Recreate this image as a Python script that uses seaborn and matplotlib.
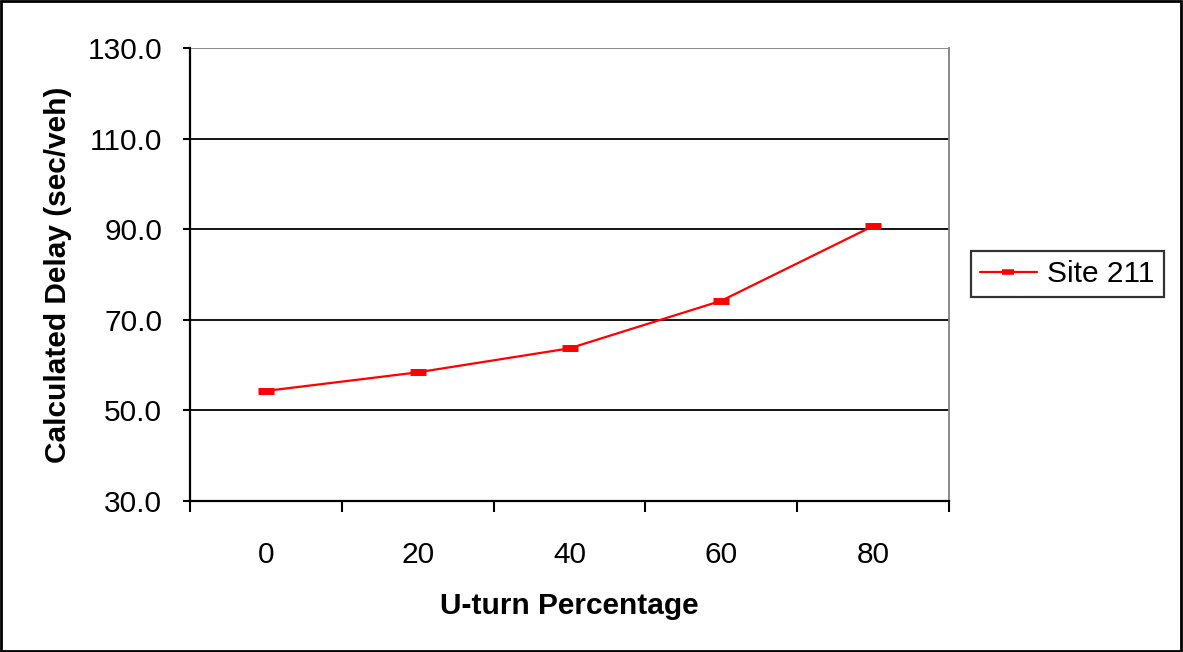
import matplotlib
matplotlib.use("Agg")
import matplotlib.pyplot as plt
import seaborn as sns
import pandas as pd
from matplotlib.patches import Rectangle
from matplotlib.ticker import FixedLocator

categories = ["0", "20", "40", "60", "80"]
delay = [54.3, 58.4, 63.7, 74.2, 90.7]
series_name = "Site 211"
y_ticks = [30.0, 50.0, 70.0, 90.0, 110.0, 130.0]

df = pd.DataFrame({"U-turn Percentage": categories, "Delay": delay, "Series": series_name})

sns.set_style("white")
plt.rcParams["font.family"] = ["Liberation Sans", "DejaVu Sans"]
plt.rcParams["text.color"] = "black"
plt.rcParams["axes.labelcolor"] = "black"
plt.rcParams["xtick.color"] = "black"
plt.rcParams["ytick.color"] = "black"

fig = plt.figure(figsize=(11.83, 6.52), dpi=100)
ax = fig.add_axes([190 / 1183, 1 - 501 / 652, (949 - 190) / 1183, (501 - 48) / 652])

sns.lineplot(data=df, x="U-turn Percentage", y="Delay", hue="Series", palette=["#ff0000"],
             marker="_", markersize=12, markeredgewidth=5, markeredgecolor="#ff0000",
             linewidth=1.6, ax=ax)

ax.set_xlim(-0.5, 4.5)
ax.set_ylim(30, 130)
ax.set_yticks(y_ticks)
ax.set_yticklabels([f"{v:.1f}" for v in y_ticks])
for v in y_ticks[1:-1]:
    ax.axhline(v, color="black", linewidth=1.3, zorder=0)
ax.axhline(130, color="#808080", linewidth=1.3, zorder=0)

ax.set_xticks(range(len(categories)))
ax.set_xticklabels(categories)
ax.xaxis.set_minor_locator(FixedLocator([i - 0.5 for i in range(len(categories) + 1)]))
ax.tick_params(axis="x", which="major", length=0, pad=29, labelsize=21.5, labelcolor="black")
ax.tick_params(axis="x", which="minor", length=8, width=1.5, color="black", direction="out", bottom=True)
ax.tick_params(axis="y", which="major", length=5, width=1.5, color="black", direction="out", left=True,
               pad=15, labelsize=21.5, labelcolor="black")

for s in ["left", "bottom"]:
    ax.spines[s].set_color("black")
    ax.spines[s].set_linewidth(1.6)
ax.spines["top"].set_visible(False)
ax.spines["right"].set_color("#808080")
ax.spines["right"].set_linewidth(1.3)

ax.set_xlabel("U-turn Percentage", fontsize=21.5, fontweight="bold", labelpad=16, color="black")
ax.set_ylabel("Calculated Delay (sec/veh)", fontsize=21.5, fontweight="bold", labelpad=11, color="black")

ax.get_legend().remove()
handles, labels = ax.get_legend_handles_labels()
handles[0].set_markersize(9)
handles[0].set_markeredgewidth(4)
leg = fig.legend(handles, labels, loc="center left", bbox_to_anchor=(971 / 1183, 1 - 274 / 652),
                 frameon=True, fancybox=False, fontsize=21.5, handlelength=1.9, handletextpad=0.35,
                 borderpad=0.3, borderaxespad=0)
leg.get_frame().set_edgecolor("black")
leg.get_frame().set_linewidth(1.6)
for t in leg.get_texts():
    t.set_color("black")

fig.patches.append(Rectangle((0.001, 0.002), 0.997, 0.996, transform=fig.transFigure,
                             fill=False, edgecolor="black", linewidth=2))

fig.savefig("out.png", dpi=100)
